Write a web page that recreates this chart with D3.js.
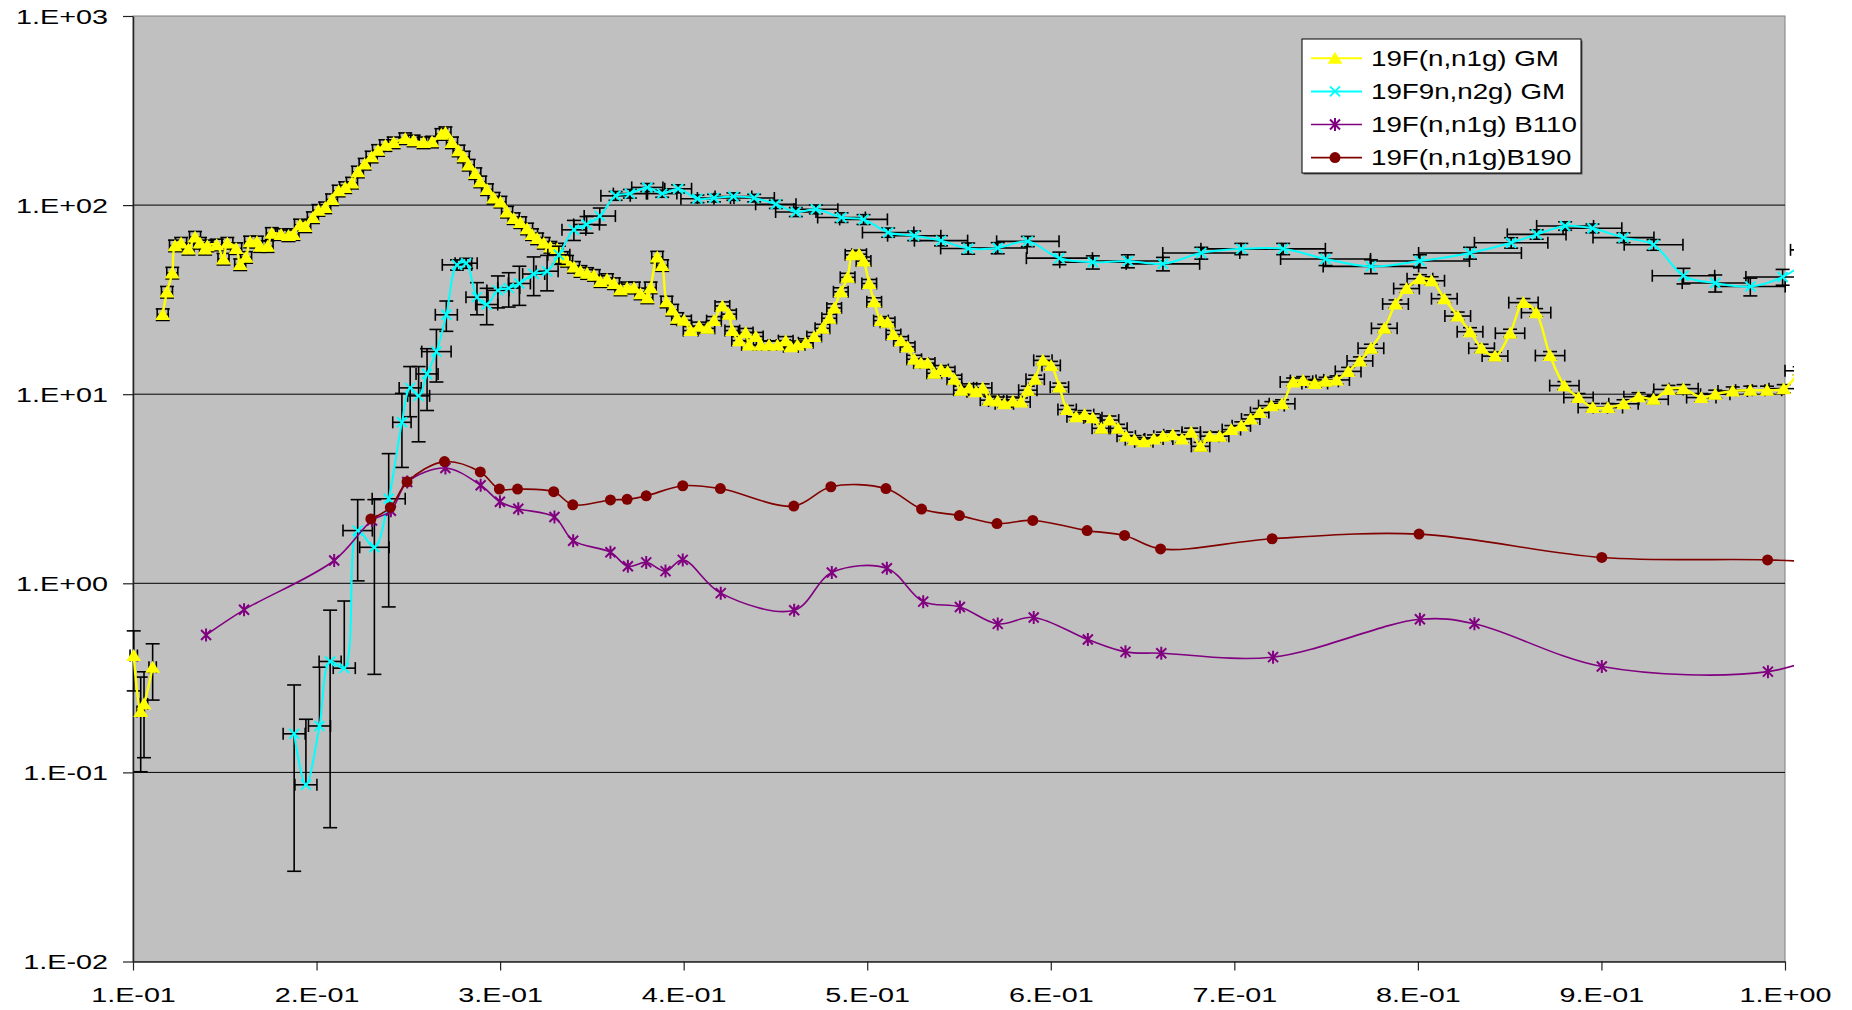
<!DOCTYPE html>
<html>
<head>
<meta charset="utf-8">
<script src="https://cdn.jsdelivr.net/npm/d3@7"></script>
<style>
body { margin: 0; background: #fff; }
svg { display: block; }
text { font-family: "Liberation Sans", Arial, sans-serif; fill: #000; }
</style>
</head>
<body>
<div class="container"></div>
<script>
// axis ticks
const xTicks = [0.1, 0.2, 0.3, 0.4, 0.5, 0.6, 0.7, 0.8, 0.9, 1.0]
const xTickLabels = ['1.E-01', '2.E-01', '3.E-01', '4.E-01', '5.E-01', '6.E-01', '7.E-01', '8.E-01', '9.E-01', '1.E+00']
const yTicks = [0.01, 0.1, 1, 10, 100, 1000]
const yTickLabels = ['1.E-02', '1.E-01', '1.E+00', '1.E+01', '1.E+02', '1.E+03']
const seriesNames = ['19F(n,n1g) GM', '19F9n,n2g) GM', '19F(n,n1g) B110', '19F(n,n1g)B190']

// 19F(n,n1g) GM
const gmN1gX = [0.1004, 0.1042, 0.106, 0.1107,
    0.1162, 0.1185, 0.1214, 0.1229, 0.1262, 0.1302, 0.1338, 0.1365, 0.1393, 0.1405, 0.1456, 0.1493, 0.1514, 0.1562,
    0.1584, 0.1616, 0.1638, 0.1675, 0.1693, 0.1733, 0.1756, 0.1807, 0.1847, 0.1874, 0.191, 0.1938, 0.198, 0.201,
    0.2047, 0.2084, 0.212, 0.2156, 0.2193, 0.2225, 0.2262, 0.23, 0.2335, 0.2375, 0.242,
    0.2483, 0.2529, 0.2583, 0.2629, 0.268, 0.2702, 0.2738, 0.2774, 0.2802, 0.2829, 0.2865, 0.2892, 0.2929, 0.2965,
    0.3002, 0.3038, 0.3074, 0.311, 0.3147, 0.3174, 0.3202, 0.3238, 0.3274, 0.3311, 0.3338, 0.3365, 0.3402, 0.3438,
    0.3474, 0.3511, 0.3547, 0.3583, 0.362, 0.3656, 0.3692, 0.3729, 0.3765, 0.3802, 0.382, 0.3856, 0.3883, 0.3907,
    0.3938, 0.3965,
    0.4002, 0.4038, 0.4084, 0.4129, 0.4165, 0.4211, 0.4247, 0.4265, 0.4302, 0.4338, 0.4356, 0.4393, 0.442, 0.4465,
    0.4511, 0.4556, 0.4584, 0.462, 0.4665, 0.4711, 0.4756, 0.4793, 0.482, 0.4856, 0.4893, 0.492, 0.4956, 0.498,
    0.5011, 0.5038, 0.5075, 0.5111, 0.5143, 0.5184, 0.522, 0.5256, 0.5293, 0.5329, 0.5365, 0.5402, 0.5438, 0.5475,
    0.5511, 0.5556,
    0.5593, 0.5629, 0.5666, 0.5711, 0.5747, 0.5793, 0.5838, 0.5875, 0.5915, 0.5957, 0.6002, 0.6047, 0.6089, 0.6138,
    0.6184, 0.6229, 0.6275, 0.632, 0.6366, 0.6411, 0.6456, 0.6507, 0.6562, 0.6611, 0.6665, 0.6715, 0.6765, 0.6816,
    0.6866, 0.692, 0.6984, 0.7038, 0.7089, 0.7138,
    0.7202, 0.726, 0.732, 0.7375, 0.7438, 0.7497, 0.7557, 0.762, 0.7684, 0.7744, 0.7817, 0.7878, 0.7938, 0.8011,
    0.8075, 0.8144, 0.8217, 0.8284, 0.8347, 0.842, 0.8502, 0.8575, 0.8644, 0.872, 0.8798, 0.8875, 0.8953, 0.9035,
    0.912, 0.9202, 0.9284, 0.9365, 0.9447, 0.9544, 0.962, 0.9715, 0.9811, 0.9902, 0.9993, 1.008]
const gmN1gY = [0.415, 0.21, 0.23, 0.36,
    26.4, 34.7, 43.8, 61, 63, 58.6, 67.8, 63, 58.6, 61, 61.7, 51.9, 63, 59,
    48.5, 53, 64, 64, 60.5, 60.5, 71, 70, 69, 70, 78.7, 77, 86, 94,
    97, 107, 119, 124, 131, 150, 165, 180, 195, 207, 214,
    225, 219, 214, 216, 237, 242, 214, 194, 180, 163, 147, 133, 121, 109,
    104, 92, 85, 81, 75, 70, 66.5, 63, 60, 58.7, 53, 50.6, 47, 44.7,
    43.6, 42.6, 39.5, 40.5, 38.5, 35.7, 36.6, 36.6, 34, 32.4, 36.6, 53.2, 48, 30.8,
    27.9, 25.2,
    24.6, 21.7, 22.9, 22.3, 24.5, 29.3, 26.5, 21.7, 19.2, 21.2, 18.2, 20.2, 18.2, 18.2,
    18.2, 19.2, 17.8, 18.2, 18.7, 20.2, 22.3, 25.2, 28.6, 34.8, 41.5, 54.6, 55, 50.6,
    38.5, 30.8, 24.5, 24, 20.7, 19.2, 17.8, 15.3, 14.6, 14.6, 12.9, 13.5, 13.2, 12,
    10.5, 10.8,
    10.3, 10.8, 9.3, 9.2, 8.9, 9.2, 9.1, 10.5, 12, 15.1, 14.2, 10.9, 8.3, 7.6,
    7.8, 7.5, 6.6, 7.3, 6.6, 6.0, 5.75, 5.6, 5.8, 6.0, 6.1, 5.8, 6.3, 5.3,
    6.0, 6.0, 6.5, 6.8, 7.4, 8.0,
    8.7, 8.9, 11.6, 11.8, 11.4, 11.7, 11.9, 13.2, 15, 17.5, 22.3, 30, 36.2, 40.8,
    39.8, 32, 25.9, 21.4, 17.5, 15.9, 21, 30.5, 27, 16, 11.1, 9.6, 8.5, 8.5,
    8.9, 9.7, 9.4, 10.6, 10.7, 9.6, 10, 10.4, 10.5, 10.5, 10.7, 13.3]
// the low-energy points are not joined to the rest of the curve
const gmN1gBreakAt = 0.114
// error bar sizes read per energy band: [upper x limit, half width in x]
const gmN1gDxBands = [[0.112, 0.002], [0.40, 0.003], [0.556, 0.004], [0.715, 0.005], [0.85, 0.007], [1.1, 0.008]]
// relative y error per band: [upper x limit, fraction of value]
const gmN1gDyBands = [[0.101, 0.35], [0.105, 0.52], [0.108, 0.48], [0.112, 0.33], [0.40, 0.07], [1.1, 0.05]]

// 19F9n,n2g) GM
const gmN2gX = [0.1878, 0.1942, 0.2016, 0.2074, 0.2151, 0.2224, 0.2315, 0.2393, 0.2465, 0.251, 0.2556, 0.2602,
    0.2653, 0.2707, 0.2765, 0.2815, 0.2874, 0.2927, 0.2988, 0.3047, 0.3105, 0.3183, 0.3256, 0.332, 0.3402, 0.3471,
    0.3543, 0.3629, 0.3707, 0.3802, 0.3883, 0.397, 0.4075, 0.4165, 0.4271, 0.4384, 0.4502, 0.4611, 0.472, 0.486,
    0.498, 0.5114, 0.5256, 0.5402, 0.555, 0.5711, 0.5875, 0.6047, 0.6229, 0.642, 0.6611, 0.682, 0.7038, 0.7266,
    0.7497, 0.7744, 0.8011, 0.8284, 0.8508, 0.8647, 0.8802, 0.8951, 0.912, 0.9284, 0.9447, 0.962, 0.9811, 0.9987, 1.02]
const gmN2gY = [0.16, 0.086, 0.176, 0.386, 0.356, 1.9, 1.55, 2.8, 7.1, 10.8, 9.8, 12.8,
    16.8, 26.3, 48.3, 49.3, 32.6, 29.8, 35.4, 36.4, 38.5, 43.2, 44.7, 54.6, 74, 79,
    87.5, 112, 115, 124, 115, 122, 108, 109, 111, 109, 101, 92, 95, 86,
    84, 71.6, 68.9, 64.9, 59, 59.3, 64.3, 52.4, 49.9, 50.6, 48.9, 55.8, 58.7, 58.7,
    51.9, 47.4, 50.6, 55.8, 63.2, 70, 77.6, 75.4, 67.3, 61.7, 42.3, 38.7, 37.1, 41.7, 58]
const gmN2gDx = [0.006, 0.006, 0.006, 0.006, 0.006, 0.008, 0.008, 0.009, 0.005, 0.006, 0.006, 0.006,
    0.008, 0.006, 0.008, 0.006, 0.006, 0.006, 0.006, 0.006, 0.006, 0.006, 0.006, 0.006, 0.0065, 0.007,
    0.0085, 0.008, 0.009, 0.0085, 0.008, 0.0073, 0.009, 0.009, 0.01, 0.011, 0.011, 0.011, 0.012, 0.013,
    0.013, 0.014, 0.0145, 0.0145, 0.015, 0.016, 0.017, 0.018, 0.018, 0.019, 0.02, 0.021, 0.022, 0.023,
    0.0245, 0.026, 0.027, 0.028, 0.02, 0.016, 0.0155, 0.016, 0.0166, 0.016, 0.017, 0.018, 0.019, 0.02, 0.017]
const gmN2gDy = [0.13, 0.105, 0.184, 0.335, 0.45, 0.87, 1.22, 2.05, 3.0, 3.2, 4.2, 4.6,
    5.2, 4.8, 3.0, 3.0, 6.3, 6.5, 6.8, 7.5, 9, 10, 9.5, 6, 9, 8,
    9, 6, 6, 6, 5, 6, 5, 5, 5, 5, 5, 5, 5, 5,
    5, 4, 4, 4, 4, 4, 4, 4, 4, 4, 4, 4, 4, 4,
    4, 4, 4, 4, 4, 4, 4, 4, 4, 4, 4, 4, 4, 4, 4]

// 19F(n,n1g) B110
const b110X = [0.1398, 0.1605, 0.2096, 0.2302, 0.2405, 0.2494, 0.2702, 0.2894, 0.2999, 0.3099, 0.3296, 0.3398,
    0.3601, 0.3696, 0.3796, 0.3901, 0.3995, 0.4202, 0.4602, 0.4807, 0.5107, 0.5305, 0.5505, 0.5711, 0.5907,
    0.6202, 0.6407, 0.6602, 0.7211, 0.8011, 0.8308, 0.9002, 0.9907, 1.03]
const b110Y = [0.533, 0.724, 1.32, 2.15, 2.42, 3.43, 4.07, 3.3, 2.7, 2.48, 2.24, 1.68,
    1.46, 1.23, 1.29, 1.16, 1.33, 0.887, 0.72, 1.14, 1.2, 0.8, 0.75, 0.61, 0.66,
    0.504, 0.434, 0.427, 0.407, 0.645, 0.611, 0.363, 0.341, 0.45]

// 19F(n,n1g)B190
const b190X = [0.2296, 0.2402, 0.2493, 0.2697, 0.2892, 0.2996, 0.3095, 0.3292, 0.3396, 0.3601, 0.3692, 0.3796,
    0.3995, 0.42, 0.46, 0.4802, 0.5102, 0.5296, 0.5502, 0.5707, 0.5902, 0.6198, 0.6402, 0.6598, 0.7206, 0.8006,
    0.9002, 0.9905, 1.03]
const b190Y = [2.19, 2.52, 3.44, 4.4, 3.88, 3.15, 3.15, 3.05, 2.6, 2.76, 2.78, 2.9,
    3.28, 3.17, 2.56, 3.24, 3.17, 2.47, 2.28, 2.07, 2.15, 1.9, 1.79, 1.52, 1.72, 1.82,
    1.37, 1.33, 1.28]

let width = 1852
let height = 1010
let plot = { left: 133, right: 1785, top: 16, bottom: 961.5 }

let svg = d3.select('.container')
    .append('svg')
    .attr('width', width)
    .attr('height', height)

let x = d3.scaleLinear().domain([0.1, 1.0]).range([plot.left, plot.right])
let y = d3.scaleLog().domain([0.01, 1000]).range([plot.bottom, plot.top])

function band(table, v) {
    for (const row of table) if (v < row[0]) return row[1]
    return table[table.length - 1][1]
}

// plot area
svg.append('rect')
    .attr('x', plot.left).attr('y', plot.top)
    .attr('width', plot.right - plot.left).attr('height', plot.bottom - plot.top)
    .attr('fill', '#c0c0c0')
    .attr('stroke', '#808080')
    .attr('stroke-width', 1)

svg.append('g')
    .selectAll('line')
    .data(yTicks.slice(1, -1))
    .enter()
    .append('line')
    .attr('x1', plot.left).attr('x2', plot.right)
    .attr('y1', d => y(d)).attr('y2', d => y(d))
    .attr('stroke', '#000')
    .attr('stroke-width', 1)

// axes
let xAxis = svg.append('g')
    .attr('transform', `translate(0,${plot.bottom})`)
    .call(d3.axisBottom(x).tickValues(xTicks).tickFormat((d, i) => xTickLabels[i]).tickSize(9).tickSizeOuter(0))
xAxis.select('.domain').attr('stroke', '#222').attr('stroke-width', 1.5)
xAxis.selectAll('.tick line').attr('stroke', '#222').attr('stroke-width', 1.2)
xAxis.selectAll('text')
    .attr('font-size', 21)
    .attr('y', 0).attr('dy', 0)
    .attr('transform', 'translate(0,40.5) scale(1.37,1)')
    .attr('fill', '#000')

let yAxis = svg.append('g')
    .attr('transform', `translate(${plot.left},0)`)
    .call(d3.axisLeft(y).tickValues(yTicks).tickFormat((d, i) => yTickLabels[i]).tickSize(10).tickSizeOuter(0))
yAxis.select('.domain').attr('stroke', '#222').attr('stroke-width', 1.5)
yAxis.selectAll('.tick line').attr('stroke', '#222').attr('stroke-width', 1.2)
yAxis.selectAll('text')
    .attr('font-size', 21)
    .attr('x', 0).attr('dy', '0.34em')
    .attr('transform', 'translate(-25,0) scale(1.37,1)')
    .attr('fill', '#000')

// clip a little past the right edge, as the original does
svg.append('clipPath').attr('id', 'clip')
    .append('rect').attr('x', 0).attr('y', 0).attr('width', 1794).attr('height', height)

let layer = svg.append('g').attr('clip-path', 'url(#clip)')

let line = d3.line()
    .x(d => x(d.x))
    .y(d => y(d.y))
    .curve(d3.curveCatmullRom.alpha(0.5))

const markers = {
    triangle: 'M0,-6.5L7.5,5.5L-7.5,5.5Z',
    cross: 'M-5,-5L5,5M5,-5L-5,5',
    star: 'M-5,-5L5,5M5,-5L-5,5M0,-6.5L0,6.5'
}

function errorBars(g, pts) {
    let eb = g.append('g').attr('stroke', '#000').attr('stroke-width', 1.6).attr('fill', 'none')
    pts.forEach(p => {
        let px = x(p.x), py = y(p.y)
        if (p.dy) {
            let top = y(p.y + p.dy)
            let lowV = p.y - p.dy
            let bot = lowV > 0.01 ? y(lowV) : (lowV > 0 ? plot.bottom : py)
            eb.append('line').attr('x1', px).attr('x2', px).attr('y1', top).attr('y2', bot)
            eb.append('line').attr('x1', px - 7).attr('x2', px + 7).attr('y1', top).attr('y2', top)
            if (lowV > 0.01) eb.append('line').attr('x1', px - 7).attr('x2', px + 7).attr('y1', bot).attr('y2', bot)
        }
        if (p.dx) {
            let l = x(p.x - p.dx), r = x(p.x + p.dx)
            eb.append('line').attr('x1', l).attr('x2', r).attr('y1', py).attr('y2', py)
            eb.append('line').attr('x1', l).attr('x2', l).attr('y1', py - 6).attr('y2', py + 6)
            eb.append('line').attr('x1', r).attr('x2', r).attr('y1', py - 6).attr('y2', py + 6)
        }
    })
}

function drawSeries(segments, colour, lineWidth, marker, withBars) {
    let pts = segments.flat()
    let g = layer.append('g')
    if (withBars) errorBars(g, pts)
    g.selectAll('path.series')
        .data(segments)
        .enter()
        .append('path')
        .attr('class', 'series')
        .attr('d', line)
        .attr('fill', 'none')
        .attr('stroke', colour)
        .attr('stroke-width', lineWidth)
    let m = g.append('g')
    if (marker === 'circle') {
        m.selectAll('circle').data(pts).enter().append('circle')
            .attr('cx', d => x(d.x)).attr('cy', d => y(d.y)).attr('r', 5.5)
            .attr('fill', colour)
    } else {
        m.selectAll('path').data(pts).enter().append('path')
            .attr('transform', d => `translate(${x(d.x)},${y(d.y)})`)
            .attr('d', markers[marker])
            .attr('fill', marker === 'triangle' ? colour : 'none')
            .attr('stroke', colour)
            .attr('stroke-width', marker === 'triangle' ? 0 : 2)
    }
}

let yellowPts = gmN1gX.map((v, i) => ({
    x: v, y: gmN1gY[i],
    dx: band(gmN1gDxBands, v),
    dy: gmN1gY[i] * band(gmN1gDyBands, v)
}))
let cyanPts = gmN2gX.map((v, i) => ({ x: v, y: gmN2gY[i], dx: gmN2gDx[i], dy: gmN2gDy[i] }))
let purplePts = b110X.map((v, i) => ({ x: v, y: b110Y[i] }))
let maroonPts = b190X.map((v, i) => ({ x: v, y: b190Y[i] }))

drawSeries([yellowPts.filter(d => d.x < gmN1gBreakAt), yellowPts.filter(d => d.x >= gmN1gBreakAt)],
    '#ffff00', 2.4, 'triangle', true)
drawSeries([cyanPts], '#00ffff', 2, 'cross', true)
drawSeries([purplePts], '#800080', 1.6, 'star', false)
drawSeries([maroonPts], '#800000', 1.6, 'circle', false)

// legend
let legend = svg.append('g')
legend.append('rect')
    .attr('x', 1303.5).attr('y', 40.5).attr('width', 279).attr('height', 134)
    .attr('fill', '#555')
legend.append('rect')
    .attr('x', 1302).attr('y', 39).attr('width', 279).attr('height', 134)
    .attr('fill', '#fff').attr('stroke', '#000').attr('stroke-width', 1)

const legendColours = ['#ffff00', '#00ffff', '#800080', '#800000']
const legendMarkers = ['triangle', 'cross', 'star', 'circle']
seriesNames.forEach((name, i) => {
    let ry = 58.3 + i * 33.1
    let row = legend.append('g')
    row.append('line')
        .attr('x1', 1311).attr('x2', 1362).attr('y1', ry).attr('y2', ry)
        .attr('stroke', legendColours[i]).attr('stroke-width', i < 2 ? 2 : 1.6)
    if (legendMarkers[i] === 'circle') {
        row.append('circle').attr('cx', 1335).attr('cy', ry).attr('r', 5.5).attr('fill', legendColours[i])
    } else {
        row.append('path')
            .attr('transform', `translate(1335,${ry})`)
            .attr('d', markers[legendMarkers[i]])
            .attr('fill', legendMarkers[i] === 'triangle' ? legendColours[i] : 'none')
            .attr('stroke', legendColours[i])
            .attr('stroke-width', legendMarkers[i] === 'triangle' ? 0 : 2)
    }
    row.append('text')
        .attr('transform', `translate(1371,${ry + 7.5}) scale(1.29,1)`)
        .attr('font-size', 21.5)
        .text(name)
})
</script>
</body>
</html>
